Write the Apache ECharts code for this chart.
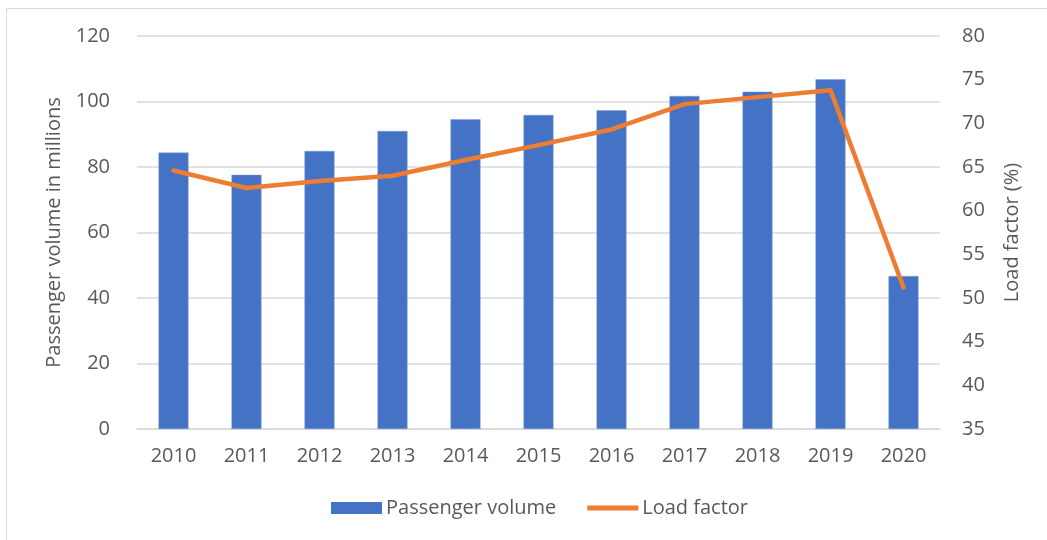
<!DOCTYPE html>
<html>
<head>
<meta charset="utf-8">
<script src="https://cdn.jsdelivr.net/npm/echarts@6/dist/echarts.min.js"></script>
<style>html,body{margin:0;padding:0;background:#fff}#c{width:1047px;height:540px}</style>
</head>
<body>
<div id="c"></div>
<script>
const years = ['2010','2011','2012','2013','2014','2015','2016','2017','2018','2019','2020'];
const passengerVolume = [84.4, 77.6, 84.9, 91.0, 94.6, 95.9, 97.3, 101.7, 103.0, 106.8, 46.7];
const loadFactor = [64.6, 62.6, 63.4, 64.0, 65.8, 67.5, 69.3, 72.2, 73.0, 73.8, 51.2];
const leftTicks = {min: 0, max: 120, interval: 20};
const rightTicks = {min: 35, max: 80, interval: 5};

const FONT = '"Open Sans", sans-serif';
const TXT = '#595959';
const chart = echarts.init(document.getElementById('c'), null, {renderer: 'canvas'});
chart.setOption({
  animation: false,
  textStyle: {fontFamily: FONT},
  graphic: [{
    type: 'rect', shape: {x: 6.5, y: 8.5, width: 1200, height: 700},
    style: {fill: 'none', stroke: '#D9D9D9', lineWidth: 1}, silent: true, z: -10
  }],
  grid: {left: 137, right: 107, top: 36, bottom: 111},
  legend: {
    bottom: 17, left: 326, itemGap: 31,
    textStyle: {color: TXT, fontSize: 20, fontFamily: FONT, padding: [0, 0, 0, -1]},
    data: [
      {name: 'Passenger volume', icon: 'rect', itemStyle: {color: '#4472C4', borderWidth: 0}},
      {name: 'Load factor', icon: 'path://M0,0 H10 V1 H0 Z'}
    ],
    itemWidth: 51, itemHeight: 12
  },
  xAxis: {
    type: 'category', data: years,
    axisLine: {lineStyle: {color: '#D9D9D9', width: 1.5}},
    axisTick: {show: false},
    axisLabel: {color: TXT, fontSize: 20, margin: 17, fontFamily: FONT}
  },
  yAxis: [{
    type: 'value', min: leftTicks.min, max: leftTicks.max, interval: leftTicks.interval,
    name: 'Passenger volume in millions', nameLocation: 'middle', nameGap: 72, nameRotate: 90,
    nameTextStyle: {color: TXT, fontSize: 20, fontFamily: FONT},
    axisLine: {show: false}, axisTick: {show: false},
    axisLabel: {color: TXT, fontSize: 20, margin: 27, fontFamily: FONT},
    splitLine: {lineStyle: {color: '#D9D9D9', width: 1.5}}
  }, {
    type: 'value', min: rightTicks.min, max: rightTicks.max, interval: rightTicks.interval,
    name: 'Load factor (%)', nameLocation: 'middle', nameGap: 62, nameRotate: 90,
    nameTextStyle: {color: TXT, fontSize: 20, fontFamily: FONT},
    axisLine: {show: false}, axisTick: {show: false},
    axisLabel: {color: TXT, fontSize: 20, margin: 22, fontFamily: FONT},
    splitLine: {show: false}
  }],
  series: [{
    name: 'Passenger volume', type: 'bar', data: passengerVolume, barWidth: 30,
    itemStyle: {color: '#4472C4', borderColor: '#7F9FD6', borderWidth: 0.5}
  }, {
    name: 'Load factor', type: 'line', yAxisIndex: 1, data: loadFactor,
    showSymbol: false, symbol: 'none',
    lineStyle: {color: '#ED7D31', width: 4.5, cap: 'round', join: 'round'},
    itemStyle: {color: '#ED7D31'}
  }]
});
</script>
</body>
</html>
